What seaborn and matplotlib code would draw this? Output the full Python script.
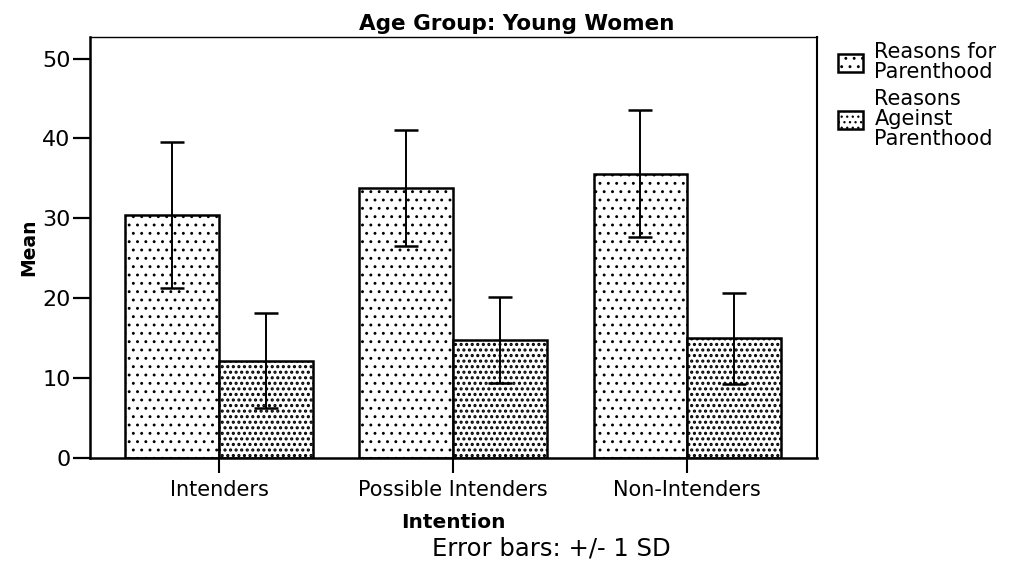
import pandas as pd
import matplotlib
matplotlib.use("Agg")
import matplotlib.pyplot as plt
import seaborn as sns

# values
intention = ["Intenders", "Possible Intenders", "Non-Intenders"]
reason_labels = ["Reasons for\nParenthood", "Reasons\nAgeinst\nParenthood"]
for_mean = [30.4, 33.8, 35.6]
for_sd = [9.1, 7.2, 7.9]
against_mean = [12.2, 14.8, 15.0]
against_sd = [5.9, 5.35, 5.7]
y_ticks = [0, 10, 20, 30, 40, 50]

df = pd.DataFrame({
    "Intention": intention * 2,
    "Mean": for_mean + against_mean,
    "SD": for_sd + against_sd,
    "Reason": [reason_labels[0]] * 3 + [reason_labels[1]] * 3,
})

sns.set_style("ticks")
plt.rcParams["font.family"] = ["DejaVu Sans"]
plt.rcParams["hatch.linewidth"] = 0.9
plt.rcParams["hatch.color"] = "black"
for k in ["text.color", "axes.labelcolor", "xtick.color", "ytick.color", "axes.edgecolor"]:
    plt.rcParams[k] = "black"

fig = plt.figure(figsize=(10.2, 5.62), dpi=100)
ax = fig.add_axes([90 / 1020, 1 - 458 / 562, 727 / 1020, 421 / 562])

sns.barplot(data=df, x="Intention", y="Mean", hue="Reason", order=intention,
            hue_order=reason_labels, errorbar=None, width=0.8,
            color="white", edgecolor="black", linewidth=1.8, legend=False, ax=ax)

# white faces, dotted hatches like the scanned SPSS chart
hatches = ["..", "..."]
hatch_lw = [0.9, 1.5]
for cont, h, hw, lab in zip(ax.containers, hatches, hatch_lw, reason_labels):
    cont.set_label(lab)
    for bar in cont.patches:
        bar.set_facecolor("white")
        bar.set_edgecolor("black")
        bar.set_hatch(h)
        if hasattr(bar, "set_hatch_linewidth"):
            bar.set_hatch_linewidth(hw)

# +/- 1 SD error bars, centred on the bars seaborn drew
for cont, sub in zip(ax.containers, [df.iloc[:3], df.iloc[3:]]):
    xs = [b.get_x() + b.get_width() / 2 for b in cont.patches]
    ax.errorbar(xs, sub["Mean"].values, yerr=sub["SD"].values, fmt="none",
                ecolor="black", elinewidth=1.4, capsize=8.3, capthick=1.8, zorder=5)

ax.set_xlim(-0.551, 2.554)
ax.set_ylim(0, 52.7)
ax.set_yticks(y_ticks)
ax.tick_params(axis="y", length=12.5, width=1.6, labelsize=16, pad=1.5)
ax.tick_params(axis="x", length=11, width=1.5, labelsize=15, pad=5)

for side in ["left", "bottom"]:
    ax.spines[side].set_linewidth(1.8)
ax.spines["right"].set_linewidth(1.5)
ax.spines["top"].set_linewidth(1.0)
for s in ax.spines.values():
    s.set_color("black")
    s.set_visible(True)

ax.set_xlabel("Intention", fontsize=14.5, fontweight="bold", labelpad=9)
ax.set_ylabel("Mean", fontsize=13.5, fontweight="bold", labelpad=3)

leg = ax.legend(handles=list(ax.containers), labels=reason_labels,
                loc="upper left", bbox_to_anchor=(838 / 1020, 1 - 42 / 562),
                bbox_transform=fig.transFigure, frameon=False, fontsize=15,
                handlelength=1.2, handleheight=1.0, handletextpad=0.55,
                labelspacing=0.35, borderpad=0, borderaxespad=0)
for t in leg.get_texts():
    t.set_linespacing(1.0)

fig.text(517 / 1020, 1 - 30 / 562, "Age Group: Young Women", ha="center",
         va="baseline", fontsize=15.5, fontweight="bold")
fig.text(551 / 1020, 1 - 555 / 562, "Error bars: +/- 1 SD", ha="center",
         va="baseline", fontsize=17.5)

fig.savefig("out.png", dpi=100, facecolor="white")
